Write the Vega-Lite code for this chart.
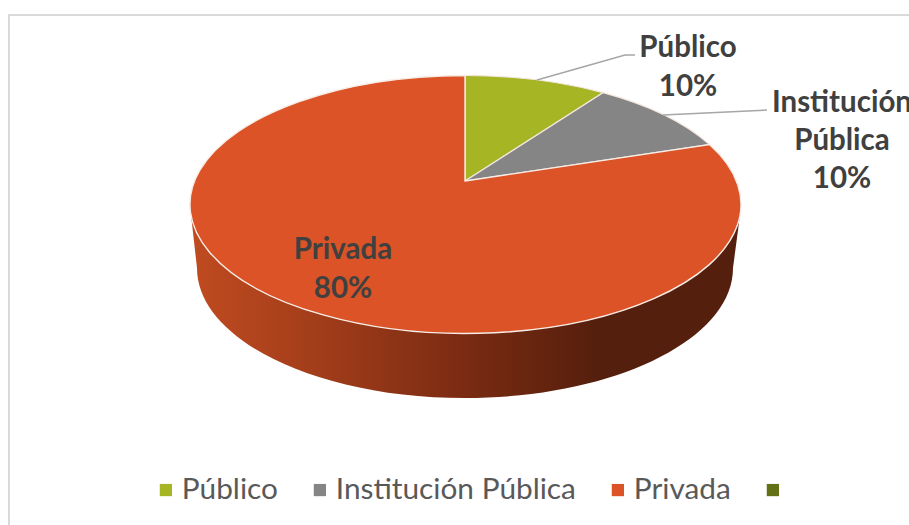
{
"$schema":"https://vega.github.io/schema/vega-lite/v6.json",
"width":909,"height":525,"padding":0,"autosize":{"type":"none"},"background":"white",
"config":{"view":{"stroke":null},"font":"Lato"},
"datasets":{"sectores":[
{"categoria":"Público","valor":10,"etiqueta":"Público\n10%"},
{"categoria":"Institución Pública","valor":10,"etiqueta":"Institución\nPública\n10%"},
{"categoria":"Privada","valor":80,"etiqueta":"Privada\n80%"},
{"categoria":" ","valor":0,"etiqueta":""}
]},
"layer":[
{"data":{"name":"sectores"},
 "mark":{"type":"point","filled":true,"opacity":1,"shape":"square","size":169,"strokeWidth":0},
 "encoding":{
  "color":{"field":"categoria","type":"nominal","sort":null,
   "scale":{"domain":["Público","Institución Pública","Privada"," "],"range":["#a6b524","#858585","#db5326","#637016"]},
   "legend":{"title":null,"orient":"none","legendX":151,"legendY":475,"direction":"horizontal","columns":4,"gridAlign":"each","columnPadding":27,
     "symbolType":"square","symbolSize":150,"symbolStrokeWidth":0,"symbolOpacity":1,"labelFont":"Lato","labelFontSize":29.8,"labelColor":"#595959","labelOffset":1,"labelLimit":400}}
 }},
{"data":{"values":[{"pieza":"marco"}]},
 "mark":{"type":"point","filled":false,"stroke":"#d9d9d9","strokeWidth":2,"opacity":1},
 "encoding":{"size":{"value":4},"shape":{"value":"M-445.5,262.5 L-445.5,-247.5 L454.5,-247.5"}}},
{"data":{"values":[{"pieza":"lateral"}]},
 "mark":{"type":"point","filled":true,"opacity":1,"strokeWidth":0,
  "fill":{"gradient":"linear","x1":0,"y1":0,"x2":1,"y2":0,"stops":[
   {"offset":0,"color":"#c04b20"},{"offset":0.2,"color":"#a63f1b"},{"offset":0.5,"color":"#7a2b12"},{"offset":0.74,"color":"#551f0d"},{"offset":1,"color":"#551f0d"}]}},
 "encoding":{"size":{"value":4},"shape":{"value":"M-263.5,-47.5 L-257.5,5.5 A268,130 0 0 0 278.5,5.5 L285.5,-47.5 Z"}}},
{"data":{"name":"sectores"},"transform":[{"filter":"datum.categoria==='Público'"}],
 "mark":{"type":"point","filled":true,"opacity":1,"stroke":"#f4e6df","strokeWidth":1.2},
 "encoding":{"size":{"value":4},"color":{"field":"categoria","type":"nominal","sort":null,"legend":null},
  "shape":{"value":"M10.5,-81.5 L10.5,-187 A275.5,129 0 0 1 148.5,-169.8 Z"}}},
{"data":{"name":"sectores"},"transform":[{"filter":"datum.categoria==='Institución Pública'"}],
 "mark":{"type":"point","filled":true,"opacity":1,"stroke":"#f4e6df","strokeWidth":1.2},
 "encoding":{"size":{"value":4},"color":{"field":"categoria","type":"nominal","sort":null,"legend":null},
  "shape":{"value":"M10.5,-81.5 L148.5,-169.8 A275.5,129 0 0 1 255,-117.9 Z"}}},
{"data":{"name":"sectores"},"transform":[{"filter":"datum.categoria==='Privada'"}],
 "mark":{"type":"point","filled":true,"opacity":1,"stroke":"#f7ece6","strokeWidth":1.4},
 "encoding":{"size":{"value":4},"color":{"field":"categoria","type":"nominal","sort":null,"legend":null},
  "shape":{"value":"M10.5,-81.5 L255,-117.9 A275.5,129 0 1 1 10.5,-187 Z"}}},
{"data":{"values":[{"pieza":"guías"}]},
 "mark":{"type":"point","filled":false,"stroke":"#a6a6a6","strokeWidth":1.5,"opacity":1},
 "encoding":{"size":{"value":4},"shape":{"value":"M82.5,-182.5 L170.5,-207.5 L180.5,-207.5 M208.5,-147.5 L312.5,-152.5"}}},
{"data":{"name":"sectores"},"transform":[{"filter":"datum.categoria==='Público'"}],
 "mark":{"type":"text","font":"Lato","fontWeight":"bold","fontSize":29.5,"color":"#404040","lineBreak":"\n","lineHeight":39,"align":"center","baseline":"middle","dx":233.5,"dy":-215},
 "encoding":{"text":{"field":"etiqueta"}}},
{"data":{"name":"sectores"},"transform":[{"filter":"datum.categoria==='Institución Pública'"}],
 "mark":{"type":"text","font":"Lato","fontWeight":"bold","fontSize":29.5,"color":"#404040","lineBreak":"\n","lineHeight":38,"align":"center","baseline":"middle","dx":387.5,"dy":-159.5},
 "encoding":{"text":{"field":"etiqueta"}}},
{"data":{"name":"sectores"},"transform":[{"filter":"datum.categoria==='Privada'"}],
 "mark":{"type":"text","font":"Lato","fontWeight":"bold","fontSize":29.5,"color":"#404040","lineBreak":"\n","lineHeight":39,"align":"center","baseline":"middle","dx":-111.5,"dy":-12.5},
 "encoding":{"text":{"field":"etiqueta"}}}
]
}
